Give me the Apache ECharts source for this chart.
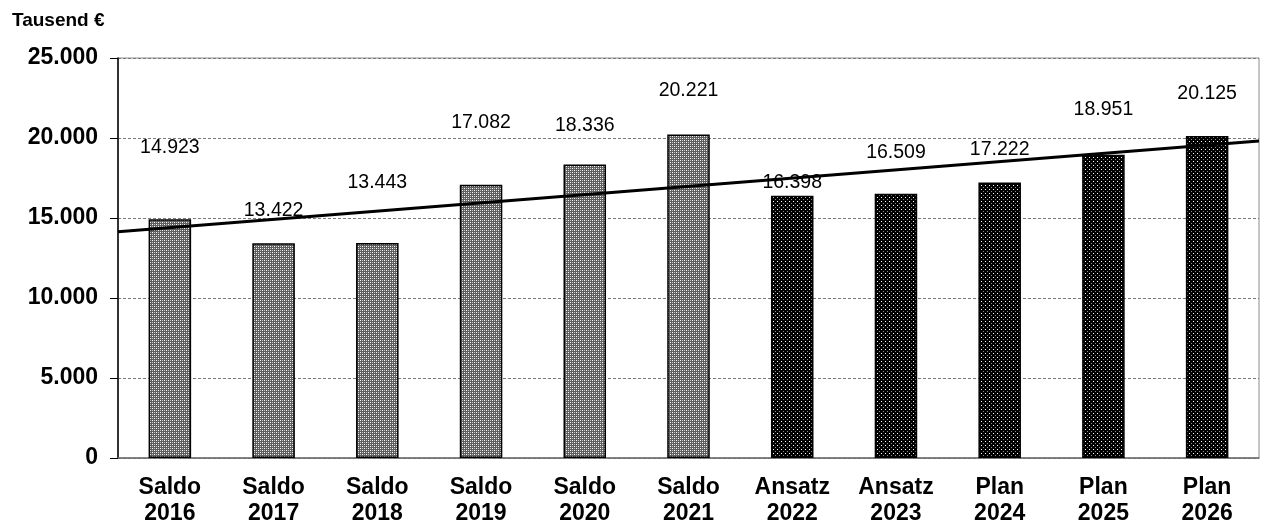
<!DOCTYPE html>
<html>
<head>
<meta charset="utf-8">
<script src="https://cdn.jsdelivr.net/npm/echarts@6/dist/echarts.min.js"></script>
<style>
html,body{margin:0;padding:0;background:#fff;}
#c{width:1261px;height:525px;}
</style>
</head>
<body>
<div id="c"></div>
<script>
// ---- data ----
const categories = ['Saldo\n2016','Saldo\n2017','Saldo\n2018','Saldo\n2019','Saldo\n2020','Saldo\n2021','Ansatz\n2022','Ansatz\n2023','Plan\n2024','Plan\n2025','Plan\n2026'];
const values = [14923, 13422, 13443, 17082, 18336, 20221, 16398, 16509, 17222, 18951, 20125];
const kinds = ['ist','ist','ist','ist','ist','ist','plan','plan','plan','plan','plan'];
const trendStart = 14140;   // trend value at left edge of plot
const trendEnd = 19810;     // trend value at right edge of plot
const yTicks = [0, 5000, 10000, 15000, 20000, 25000];
const yUnit = 'Tausend €';

// ---- styling (label lift above bar top, px) ----
const labelLift = [-72, -33, -60, -62, -39, -44, -13, -41, -33, -45, -42];

function makePattern(kind){
  const c = document.createElement('canvas');
  c.width = 4; c.height = 4;
  const g = c.getContext('2d');
  if (kind === 'ist') {
    g.fillStyle = '#5e5e5e'; g.fillRect(0,0,4,4);
    g.fillStyle = '#ffffff'; g.fillRect(0,0,1,1); g.fillRect(2,2,1,1);
    g.fillStyle = '#c4c4c4'; g.fillRect(2,0,1,1); g.fillRect(0,2,1,1);
  } else {
    g.fillStyle = '#000000'; g.fillRect(0,0,4,4);
    g.fillStyle = '#ffffff'; g.fillRect(1,1,1,1);
    g.fillStyle = '#8a8a8a'; g.fillRect(3,3,1,1);
  }
  return c;
}
const patIst = makePattern('ist');
const patPlan = makePattern('plan');

const fmt = v => String(v).replace(/\B(?=(\d{3})+(?!\d))/g, '.');
const FONT = 'Arial, "Liberation Sans", sans-serif';

const barData = values.map((v,i) => ({
  value: v,
  itemStyle: { color: { image: kinds[i]==='ist' ? patIst : patPlan, repeat: 'repeat' } },
  label: { position: ['50%', labelLift[i]] }
}));

const chart = echarts.init(document.getElementById('c'), null, {renderer:'canvas'});
chart.setOption({
  animation: false,
  backgroundColor: '#fff',
  grid: { left: 118, right: 2, top: 58, bottom: 67, show: true, borderColor: '#8c8c8c', borderWidth: 1, containLabel: false, outerBoundsMode: 'none' },
  graphic: [{ type:'text', left: 12, top: 11, style: { text: yUnit, font: 'bold 19px ' + FONT, fill: '#000' } }],
  xAxis: [{
    type: 'category', data: categories,
    axisLine: { lineStyle: { color: '#6e6e6e', width: 1.5 } },
    axisTick: { length: 8, lineStyle: { color: '#000' } },
    axisLabel: { color: '#000', fontFamily: FONT, fontWeight: 'bold', fontSize: 23, lineHeight: 26, margin: 17, interval: 0 }
  },{
    type: 'value', min: 0, max: 11, show: false
  }],
  yAxis: {
    type: 'value', min: yTicks[0], max: yTicks[yTicks.length-1], interval: yTicks[1]-yTicks[0],
    axisLine: { show: true, lineStyle: { color: '#000', width: 1.5 } },
    axisTick: { show: true, length: 8, lineStyle: { color: '#000' } },
    axisLabel: { color: '#000', fontFamily: FONT, fontWeight: 'bold', fontSize: 23, margin: 20, formatter: fmt },
    splitLine: { lineStyle: { color: '#7a7a7a', type: [3,2], width: 1 } }
  },
  series: [{
    type: 'bar', data: barData, barWidth: '41%',
    itemStyle: { borderColor: '#000', borderWidth: 1.5 },
    label: { show: true, color: '#000', fontFamily: FONT, fontSize: 19.5, align: 'center', verticalAlign: 'middle', formatter: p => fmt(p.value) },
    z: 2
  },{
    type: 'line', xAxisIndex: 1, data: [[0, trendStart],[11, trendEnd]],
    symbol: 'none', lineStyle: { color: '#000', width: 3 }, z: 3, silent: true
  }]
});
</script>
</body>
</html>
